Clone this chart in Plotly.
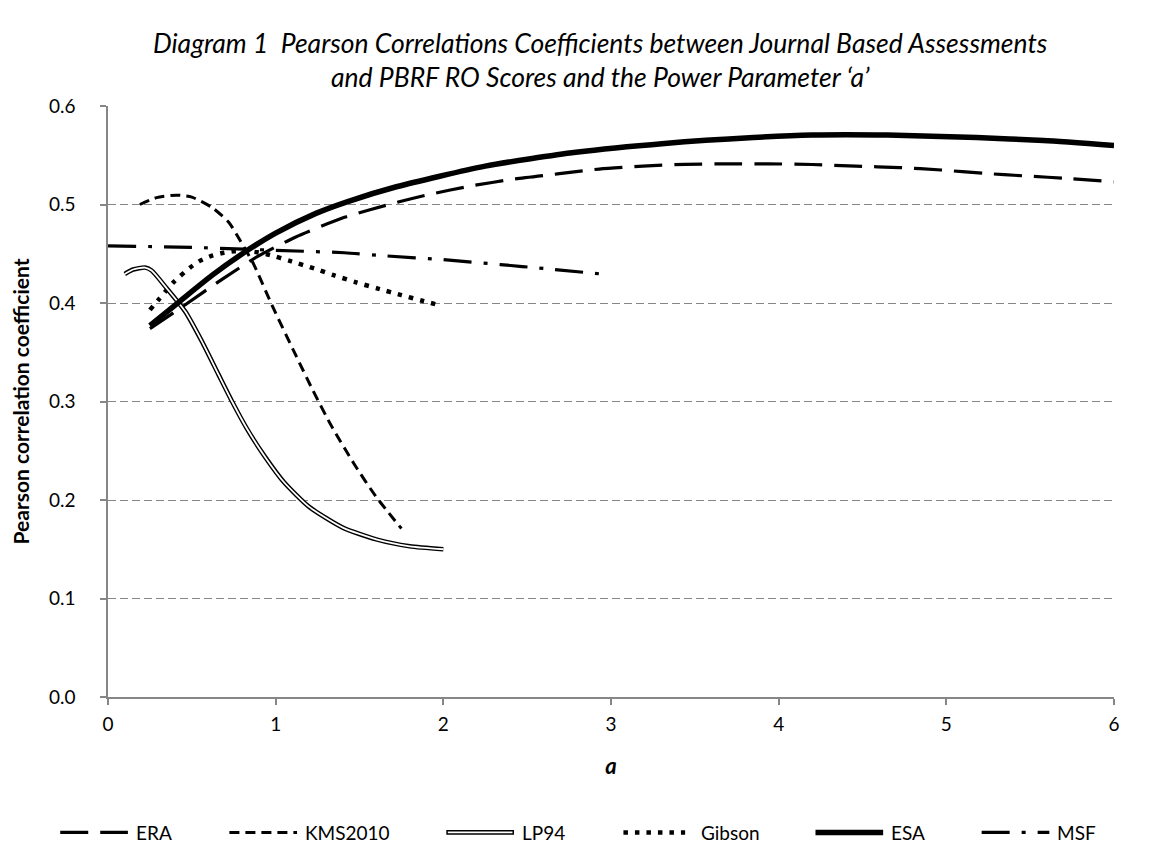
import plotly.graph_objects as go

# ---------------- data ----------------
era_x = [0.25, 0.45, 0.68, 0.89, 1.12, 1.41, 1.72, 1.91, 2.17, 2.43, 2.68, 2.93,
         3.19, 3.44, 3.69, 3.94, 4.20, 4.46, 4.72, 4.97, 5.22, 5.47, 5.74, 6.00]
era_y = [0.374, 0.397, 0.424, 0.447, 0.467, 0.487, 0.502, 0.510, 0.519, 0.526, 0.531, 0.536,
         0.539, 0.5408, 0.5413, 0.5413, 0.5406, 0.539, 0.5375, 0.535, 0.5317, 0.529, 0.5263, 0.523]

kms_x = [0.19, 0.29, 0.41, 0.50, 0.62, 0.72, 0.79, 0.87, 0.98, 1.12, 1.22, 1.33, 1.47, 1.60, 1.75]
kms_y = [0.500, 0.507, 0.5095, 0.5075, 0.497, 0.482, 0.463, 0.439, 0.397, 0.347, 0.312, 0.276,
         0.236, 0.203, 0.171]

lp94_x = [0.10, 0.15, 0.22, 0.26, 0.35, 0.46, 0.56, 0.66, 0.74, 0.83, 0.94, 1.05, 1.20, 1.40,
          1.60, 1.80, 2.00]
lp94_y = [0.4295, 0.434, 0.436, 0.433, 0.415, 0.3915, 0.361, 0.327, 0.300, 0.272, 0.243, 0.218,
          0.193, 0.172, 0.160, 0.153, 0.150]

gibson_x = [0.25, 0.30, 0.39, 0.49, 0.55, 0.62, 0.69, 0.75, 0.82, 0.89, 0.96, 1.09, 1.23, 1.35,
            1.48, 1.61, 1.75, 1.88, 1.97]
gibson_y = [0.393, 0.403, 0.421, 0.436, 0.443, 0.448, 0.451, 0.4525, 0.4528, 0.4515, 0.449,
            0.4425, 0.435, 0.428, 0.421, 0.4146, 0.408, 0.402, 0.398]

esa_x = [0.25, 0.43, 0.62, 0.81, 1.00, 1.24, 1.43, 1.72, 2.25, 2.79, 3.32, 3.85, 4.20, 4.65,
         5.18, 5.58, 6.00]
esa_y = [0.377, 0.402, 0.428, 0.451, 0.471, 0.491, 0.503, 0.518, 0.539, 0.553, 0.562, 0.568,
         0.5705, 0.5705, 0.568, 0.565, 0.560]

msf_x = [0.00, 0.50, 0.81, 1.00, 1.41, 1.66, 2.00, 2.34, 2.60, 2.97]
msf_y = [0.458, 0.4565, 0.4546, 0.4535, 0.451, 0.4478, 0.444, 0.439, 0.435, 0.429]

series_names = ["ERA", "KMS2010", "LP94", "Gibson", "ESA", "MSF"]
x_ticks = [0, 1, 2, 3, 4, 5, 6]
y_ticks = [0.0, 0.1, 0.2, 0.3, 0.4, 0.5, 0.6]
y_tick_text = ["0.0", "0.1", "0.2", "0.3", "0.4", "0.5", "0.6"]
title_lines = ["Diagram 1  Pearson Correlations Coefficients between Journal Based Assessments",
               "and PBRF RO Scores and the Power Parameter \u2018a\u2019"]

# ---------------- styling ----------------
FONT = "Lato"
BLACK = "#000000"
GRAY = "#868686"
W, H = 1150, 856
L, R, T, B = 95.0, 1106.0, 98.0, 689.5

styles = {
    "ERA": dict(width=3.2, dash="28px,12px"),
    "KMS2010": dict(width=3.0, dash="10px,6px"),
    "Gibson": dict(width=4.5, dash="4.5px,7px"),
    "ESA": dict(width=5.5, dash="solid"),
    "MSF": dict(width=3.2, dash="28px,12px,4px,12px"),
}

fig = go.Figure()

def add_line(x, y, name, width, dash, color=BLACK):
    fig.add_trace(go.Scatter(
        x=x, y=y, mode="lines", name=name, showlegend=False,
        line=dict(color=color, width=width, dash=dash, shape="spline", smoothing=0.6),
        hoverinfo="skip"))

add_line(msf_x, msf_y, "MSF", **styles["MSF"])
add_line(gibson_x, gibson_y, "Gibson", **styles["Gibson"])
add_line(kms_x, kms_y, "KMS2010", **styles["KMS2010"])
# LP94: double line (black outer, white inner)
add_line(lp94_x, lp94_y, "LP94", 4.6, "solid")
add_line(lp94_x, lp94_y, "LP94 inner", 1.8, "solid", color="#ffffff")
add_line(era_x, era_y, "ERA", **styles["ERA"])
add_line(esa_x, esa_y, "ESA", **styles["ESA"])

# ---------------- custom legend ----------------
def pxx(px):
    return (px - L) / (R - L)

def pxy(py):
    return (B - py) / (B - T)

leg_y = pxy(825)
legend_items = [
    ("ERA", 47, 115, 121),
    ("KMS2010", 217, 285, 291),
    ("LP94", 435, 503, 509),
    ("Gibson", 613, 675, 689),
    ("ESA", 806, 874, 880),
    ("MSF", 973, 1041, 1047),
]
shapes = []
annotations = []
for name, x0, x1, tx in legend_items:
    if name == "LP94":
        shapes.append(dict(type="line", xref="paper", yref="paper", x0=pxx(x0), x1=pxx(x1),
                           y0=leg_y, y1=leg_y, line=dict(color=BLACK, width=4.6)))
        shapes.append(dict(type="line", xref="paper", yref="paper", x0=pxx(x0 + 1.5), x1=pxx(x1 - 1.5),
                           y0=leg_y, y1=leg_y, line=dict(color="#ffffff", width=1.8)))
    else:
        st = styles[name]
        shapes.append(dict(type="line", xref="paper", yref="paper", x0=pxx(x0), x1=pxx(x1),
                           y0=leg_y, y1=leg_y, line=dict(color=BLACK, width=st["width"], dash=st["dash"])))
    annotations.append(dict(text=name, xref="paper", yref="paper", x=pxx(tx), y=leg_y,
                            xanchor="left", yanchor="middle", showarrow=False,
                            font=dict(family=FONT, size=19, color=BLACK)))

# title as two separate lines (tight line spacing)
for line_text, py in zip(title_lines, [35, 69]):
    annotations.append(dict(text="<i>" + line_text + "</i>", xref="paper", yref="paper",
                            x=pxx(590), y=pxy(py), xanchor="center", yanchor="middle",
                            showarrow=False, borderpad=0,
                            font=dict(family=FONT, size=26.5, color=BLACK)))

fig.update_layout(
    width=W, height=H, autosize=False,
    paper_bgcolor="white", plot_bgcolor="white",
    margin=dict(l=L, r=W - R, t=T, b=H - B, pad=0),
    xaxis=dict(
        range=[0, 6], tickvals=x_ticks, ticktext=[str(v) for v in x_ticks],
        showgrid=False, zeroline=False, showline=True, linecolor=GRAY, linewidth=1.5,
        ticks="outside", ticklen=6, tickcolor=GRAY, tickwidth=1.5,
        ticklabelstandoff=3,
        tickfont=dict(family=FONT, size=19, color=BLACK),
        title=dict(text="<b><i>a</i></b>", standoff=25, font=dict(family=FONT, size=22, color=BLACK)),
    ),
    yaxis=dict(
        range=[0, 0.6], tickvals=y_ticks, ticktext=y_tick_text,
        showgrid=True, gridcolor=GRAY, gridwidth=1.3, griddash="8px,4px",
        zeroline=False, showline=True, linecolor=GRAY, linewidth=1.5,
        ticks="outside", ticklen=6, tickcolor=GRAY, tickwidth=1.5,
        ticklabelstandoff=21,
        tickfont=dict(family=FONT, size=19, color=BLACK),
        title=dict(text="<b>Pearson correlation coefficient</b>", standoff=14,
                   font=dict(family=FONT, size=21, color=BLACK)),
    ),
    shapes=shapes,
    annotations=annotations,
)

fig.write_html("out.html")
